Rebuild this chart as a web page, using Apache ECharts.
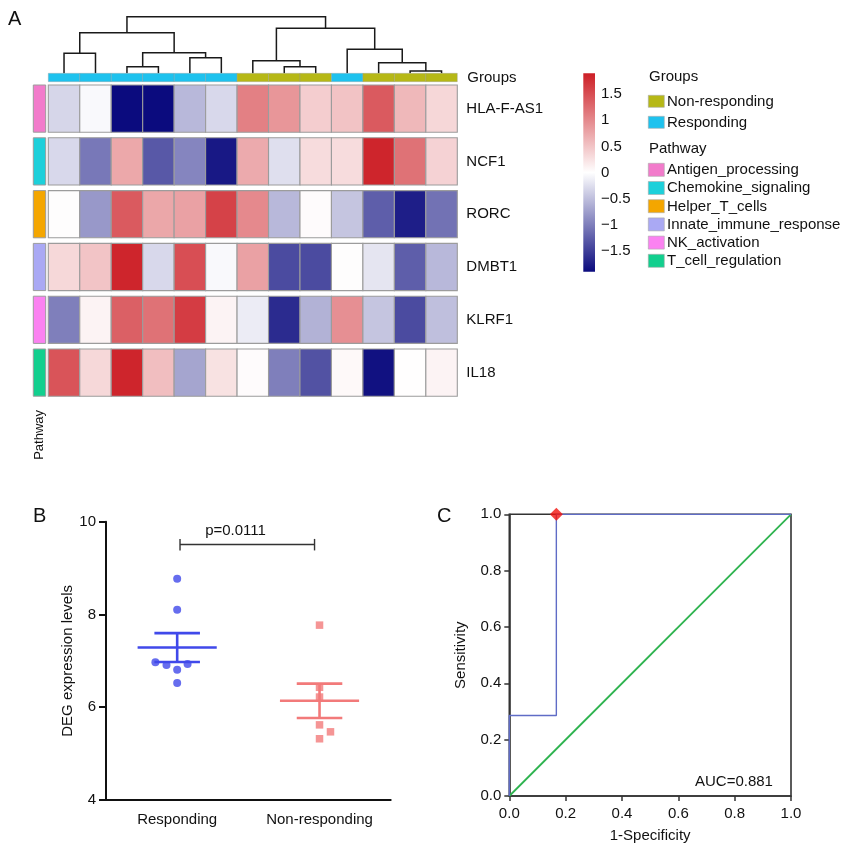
<!DOCTYPE html>
<html><head><meta charset="utf-8">
<script src="https://cdn.jsdelivr.net/npm/echarts@6/dist/echarts.min.js"></script>
<style>html,body{margin:0;padding:0;background:#fff}#c{width:848px;height:850px}</style>
</head><body><div id="c"></div>
<script>
// ---------------- DATA ----------------
const samples = ['S1','S2','S3','S4','S5','S6','S7','S8','S9','S10','S11','S12','S13'];
const sampleGroups = ['Responding','Responding','Responding','Responding','Responding','Responding',
  'Non-responding','Non-responding','Non-responding','Responding','Non-responding','Non-responding','Non-responding'];
const genes = ['HLA-F-AS1','NCF1','RORC','DMBT1','KLRF1','IL18'];
const genePathways = ['Antigen_processing','Chemokine_signaling','Helper_T_cells','Innate_immune_response','NK_activation','T_cell_regulation'];
const hlaF  = [-0.32,-0.05,-1.90,-1.90,-0.55,-0.30, 1.08, 0.89, 0.42, 0.51, 1.40, 0.60, 0.34];
const ncf1  = [-0.30,-1.05, 0.74,-1.30,-0.95,-1.80, 0.72,-0.25, 0.30, 0.30, 1.85, 1.20, 0.38];
const rorc  = [ 0.02,-0.80, 1.40, 0.75, 0.80, 1.60, 1.00,-0.55, 0.03,-0.45,-1.25,-1.75,-1.10];
const dmbt1 = [ 0.33, 0.50, 1.85,-0.30, 1.50,-0.05, 0.80,-1.40,-1.40, 0.02,-0.20,-1.25,-0.55];
const klrf1 = [-1.00, 0.10, 1.35, 1.20, 1.65, 0.10,-0.15,-1.65,-0.60, 0.95,-0.45,-1.40,-0.50];
const il18  = [ 1.45, 0.33, 1.85, 0.55,-0.70, 0.25, 0.03,-1.00,-1.35, 0.05,-1.85, 0.01, 0.10];
const geneValues = [hlaF, ncf1, rorc, dmbt1, klrf1, il18];
// hclust-style merges: negative = leaf (1-based display order), positive = earlier merge
const dendroMerges = [[-12,-13,0.23],[-3,-4,0.66],[-8,-9,0.66],[-11,1,1.06],[-7,3,1.26],[-5,-6,1.56],
  [-1,-2,2.00],[2,6,2.06],[-10,4,2.40],[7,8,4.06],[5,9,4.50],[10,11,5.66]];
const colorTicks = [-1.5,-1,-0.5,0,0.5,1,1.5];
const groupColors = {'Non-responding':'#B6B816','Responding':'#1EC2EE'};
const pathwayColors = {'Antigen_processing':'#F27BCB','Chemokine_signaling':'#1DD0DA','Helper_T_cells':'#F4A600',
  'Innate_immune_response':'#AAA9F4','NK_activation':'#FB82F1','T_cell_regulation':'#12CF8E'};
const heatColors = ['#0B0B7E','#FFFFFF','#CD1F26'];

// Panel B
const bCategories = ['Responding','Non-responding'];
const respondingLevels = [8.77, 8.10, 6.97, 6.91, 6.81, 6.93, 6.52];
const respondingJitter = [0, 0, -0.153, -0.075, 0, 0.073, 0];
const nonRespLevels = [7.77, 6.43, 6.22, 5.62, 5.47, 5.32];
const nonRespJitter = [0, 0, 0, 0, 0.077, 0];
const pValueText = 'p=0.0111';

// Panel C
const rocFpr = [0, 0, 0.167, 0.167, 1];
const rocTpr = [0, 0.286, 0.286, 1, 1];
const bestCutoff = [0.167, 1];
const aucText = 'AUC=0.881';

// ---------------- BUILD ----------------
const FONT = 'Liberation Sans, Arial, Helvetica, sans-serif';
const heatData = [];
geneValues.forEach((vals, r) => vals.forEach((v, c) => heatData.push([c, r, v])));
const groupData = sampleGroups.map((g, i) => [i, 0, g]);
const pathData = genePathways.map((p, r) => [0, r, p]);

const pos = [], hgt = [];
const nodeOf = k => k < 0 ? {x: -k - 1, h: 0} : {x: pos[k-1], h: hgt[k-1]};
const dendroData = dendroMerges.map(m => {
  const a = nodeOf(m[0]), b = nodeOf(m[1]);
  pos.push((a.x + b.x) / 2); hgt.push(m[2]);
  return [a.x, a.h, b.x, b.h, m[2]];
});

function stats(arr) {
  const n = arr.length, mean = arr.reduce((s, v) => s + v, 0) / n;
  const sd = Math.sqrt(arr.reduce((s, v) => s + (v - mean) ** 2, 0) / (n - 1));
  return {mean, sem: sd / Math.sqrt(n)};
}
const sR = stats(respondingLevels), sN = stats(nonRespLevels);
const blue = '#4049EA', salmon = '#F27A7A';

const axisTxt = {fontFamily: FONT, fontSize: 15, color: '#111'};
const minus = v => v < 0 ? '\u2212' + Math.abs(v) : String(v);

const chart = echarts.init(document.getElementById('c'), null, {renderer: 'canvas'});
const option = {
  animation: false,
  backgroundColor: '#fff',
  grid: [
    {left: 48.3, top: 16.7, width: 409, height: 56.6},
    {left: 48.3, top: 73.3, width: 409, height: 8.4},
    {left: 48.3, top: 82.2, width: 409, height: 316.8},
    {left: 33.3, top: 82.2, width: 12.4, height: 316.8},
    {left: 583.3, top: 73.3, width: 11.7, height: 198.4},
    {left: 106, top: 521.7, width: 284.7, height: 278.3},
    {left: 509.3, top: 514.3, width: 281.7, height: 281.7, show: true, borderColor: '#333', borderWidth: 1.6}
  ],
  xAxis: [
    {type: 'value', gridIndex: 0, min: -0.5, max: 12.5, show: false},
    {type: 'category', gridIndex: 1, data: samples, show: false},
    {type: 'category', gridIndex: 2, data: samples, show: false},
    {type: 'category', gridIndex: 3, data: ['Pathway'], axisLine: {show: false}, axisTick: {show: false},
      axisLabel: {rotate: 90, margin: 11, fontSize: 13, fontFamily: FONT, color: '#111'}},
    {type: 'category', gridIndex: 4, data: [''], show: false},
    {type: 'category', gridIndex: 5, data: bCategories, boundaryGap: true,
      axisLine: {lineStyle: {color: '#111', width: 2}},
      axisTick: {alignWithLabel: true, length: 6, lineStyle: {color: '#111', width: 2}},
      axisLabel: Object.assign({margin: 12}, axisTxt)},
    {type: 'value', gridIndex: 6, min: 0, max: 1, interval: 0.2, name: '1-Specificity', nameLocation: 'middle', nameGap: 32,
      nameTextStyle: axisTxt,
      axisLine: {onZero: false, lineStyle: {color: '#333', width: 1.6}}, axisTick: {length: 5, lineStyle: {color: '#333', width: 1.5}},
      splitLine: {show: false}, axisLabel: Object.assign({margin: 10, formatter: v => v.toFixed(1)}, axisTxt)},
    {type: 'value', gridIndex: 5, min: -0.5, max: 1.5, show: false}
  ],
  yAxis: [
    {type: 'value', gridIndex: 0, min: 0, max: 5.66, show: false},
    {type: 'category', gridIndex: 1, data: ['Groups'], position: 'right', axisLine: {show: false}, axisTick: {show: false},
      axisLabel: Object.assign({margin: 10}, axisTxt)},
    {type: 'category', gridIndex: 2, data: genes, inverse: true, position: 'right', axisLine: {show: false}, axisTick: {show: false},
      axisLabel: Object.assign({margin: 9}, axisTxt)},
    {type: 'category', gridIndex: 3, data: genes, inverse: true, show: false},
    {type: 'value', gridIndex: 4, min: -1.9, max: 1.9, position: 'right', axisLine: {show: false}, axisTick: {show: false},
      splitLine: {show: false},
      axisLabel: Object.assign({margin: 6, customValues: colorTicks, formatter: minus}, axisTxt)},
    {type: 'value', gridIndex: 5, min: 4, max: 10, interval: 2, name: 'DEG expression levels', nameLocation: 'middle', nameGap: 27,
      nameTextStyle: axisTxt,
      axisLine: {show: true, onZero: false, lineStyle: {color: '#111', width: 2}}, axisTick: {show: true, length: 7, lineStyle: {color: '#111', width: 2}},
      splitLine: {show: false}, axisLabel: Object.assign({margin: 10}, axisTxt)},
    {type: 'value', gridIndex: 6, min: 0, max: 1, interval: 0.2, name: 'Sensitivity', nameLocation: 'middle', nameGap: 41,
      nameTextStyle: axisTxt,
      axisLine: {show: true, onZero: false, lineStyle: {color: '#333', width: 1.6}}, axisTick: {show: true, length: 5, lineStyle: {color: '#333', width: 1.5}},
      splitLine: {show: false}, axisLabel: Object.assign({margin: 8, formatter: v => v.toFixed(1)}, axisTxt)}
  ],
  visualMap: [{type: 'continuous', show: false, min: -1.9, max: 1.9, dimension: 2, seriesIndex: 2, inRange: {color: heatColors}}],
  series: [
    { // 0 dendrogram
      type: 'custom', xAxisIndex: 0, yAxisIndex: 0, data: dendroData, encode: {x: [0, 2], y: [1, 3, 4]},
      renderItem(params, api) {
        const p1 = api.coord([api.value(0), api.value(1)]);
        const p2 = api.coord([api.value(0), api.value(4)]);
        const p3 = api.coord([api.value(2), api.value(4)]);
        const p4 = api.coord([api.value(2), api.value(3)]);
        return {type: 'polyline', shape: {points: [p1, p2, p3, p4]}, style: {stroke: '#1a1a1a', lineWidth: 1.5, fill: 'none'}};
      }
    },
    { // 1 group annotation
      type: 'custom', xAxisIndex: 1, yAxisIndex: 1, data: groupData, encode: {x: 0, y: 1},
      renderItem(params, api) {
        const c = api.coord([api.value(0), api.value(1)]), s = api.size([1, 1]);
        const g = groupData[params.dataIndex][2];
        return {type: 'rect', shape: {x: c[0] - s[0] / 2, y: c[1] - s[1] / 2, width: s[0], height: s[1]},
          style: {fill: groupColors[g], stroke: 'rgba(150,150,150,0.45)', lineWidth: 0.8}};
      }
    },
    { // 2 heatmap cells
      type: 'custom', xAxisIndex: 2, yAxisIndex: 2, data: heatData, encode: {x: 0, y: 1},
      renderItem(params, api) {
        const c = api.coord([api.value(0), api.value(1)]), s = api.size([1, 1]);
        const gap = 2.8;
        return {type: 'rect', shape: {x: c[0] - s[0] / 2, y: c[1] - s[1] / 2 + gap, width: s[0], height: s[1] - 2 * gap},
          style: {fill: api.visual('color'), stroke: '#9c9c9c', lineWidth: 1.1}};
      }
    },
    { // 3 pathway annotation
      type: 'custom', xAxisIndex: 3, yAxisIndex: 3, data: pathData, encode: {x: 0, y: 1},
      renderItem(params, api) {
        const c = api.coord([api.value(0), api.value(1)]), s = api.size([1, 1]);
        const gap = 2.8;
        const p = pathData[params.dataIndex][2];
        return {type: 'rect', shape: {x: c[0] - s[0] / 2, y: c[1] - s[1] / 2 + gap, width: s[0], height: s[1] - 2 * gap},
          style: {fill: pathwayColors[p], stroke: '#9c9c9c', lineWidth: 1}};
      }
    },
    { // 4 colour bar
      type: 'custom', xAxisIndex: 4, yAxisIndex: 4, data: [[0, 0]],
      renderItem(params, api) {
        const top = api.coord([0, 1.9]), bot = api.coord([0, -1.9]), w = api.size([1, 0])[0];
        return {type: 'rect', shape: {x: top[0] - w / 2, y: top[1], width: w, height: bot[1] - top[1]},
          style: {fill: new echarts.graphic.LinearGradient(0, 0, 0, 1, [
            {offset: 0, color: heatColors[2]}, {offset: 0.5, color: heatColors[1]}, {offset: 1, color: heatColors[0]}])}};
      }
    },
    { // 5 responding points
      type: 'scatter', xAxisIndex: 7, yAxisIndex: 5, symbol: 'circle', symbolSize: 8, itemStyle: {color: blue},
      data: respondingLevels.map((v, i) => [0 + respondingJitter[i], v]), z: 3
    },
    { // 6 non-responding points
      type: 'scatter', xAxisIndex: 7, yAxisIndex: 5, symbol: 'rect', symbolSize: 7.5, itemStyle: {color: salmon},
      data: nonRespLevels.map((v, i) => [1 + nonRespJitter[i], v]), z: 3
    },
    { // 7 mean +/- SEM
      type: 'custom', xAxisIndex: 7, yAxisIndex: 5, z: 4,
      data: [[0, sR.mean, sR.sem, 0], [1, sN.mean, sN.sem, 1]],
      renderItem(params, api) {
        const x = api.value(0), m = api.value(1), e = api.value(2);
        const col = api.value(3) === 0 ? blue : salmon;
        const st = {stroke: col, lineWidth: 2.6};
        const L = (x1, y1, x2, y2) => {
          const a = api.coord([x1, y1]), b = api.coord([x2, y2]);
          return {type: 'line', shape: {x1: a[0], y1: a[1], x2: b[0], y2: b[1]}, style: st};
        };
        return {type: 'group', children: [
          L(x - 0.278, m, x + 0.278, m), L(x - 0.16, m + e, x + 0.16, m + e),
          L(x - 0.16, m - e, x + 0.16, m - e), L(x, m - e, x, m + e)]};
      }
    },
    { // 8 significance bracket
      type: 'custom', xAxisIndex: 7, yAxisIndex: 5, data: [[0.02, 0.965, 9.51]],
      renderItem(params, api) {
        const x1 = api.value(0), x2 = api.value(1), y = api.value(2);
        const st = {stroke: '#333', lineWidth: 1.4};
        const a = api.coord([x1, y]), b = api.coord([x2, y]);
        const t = api.coord([0.41, 9.80]);
        return {type: 'group', children: [
          {type: 'line', shape: {x1: a[0], y1: a[1], x2: b[0], y2: b[1]}, style: st},
          {type: 'line', shape: {x1: a[0], y1: a[1] - 5.5, x2: a[0], y2: a[1] + 6}, style: st},
          {type: 'line', shape: {x1: b[0], y1: b[1] - 5.5, x2: b[0], y2: b[1] + 6}, style: st},
          {type: 'text', x: t[0], y: t[1], style: {text: pValueText, fill: '#111', font: '15px ' + FONT, align: 'center', verticalAlign: 'middle'}}
        ]};
      }
    },
    { // 9 reference diagonal
      type: 'line', xAxisIndex: 6, yAxisIndex: 6, data: [[0, 0], [1, 1]], symbol: 'none',
      lineStyle: {color: '#2EB34F', width: 1.8}
    },
    { // 10 ROC curve
      type: 'line', xAxisIndex: 6, yAxisIndex: 6, data: rocFpr.map((f, i) => [f, rocTpr[i]]), symbol: 'none',
      lineStyle: {color: '#5F6CC6', width: 1.4}, z: 3
    },
    { // 11 best cut-off
      type: 'scatter', xAxisIndex: 6, yAxisIndex: 6, data: [bestCutoff], symbol: 'diamond', symbolSize: 13,
      itemStyle: {color: '#F2140E'}, z: 5
    }
  ],
  graphic: [
    {type: 'text', left: 8, top: 9, style: {text: 'A', font: '20px ' + FONT, fill: '#111'}},
    {type: 'text', left: 33, top: 506, style: {text: 'B', font: '20px ' + FONT, fill: '#111'}},
    {type: 'text', left: 437, top: 506, style: {text: 'C', font: '20px ' + FONT, fill: '#111'}},
    {type: 'text', left: 695, top: 774, style: {text: aucText, font: '15px ' + FONT, fill: '#111'}}
  ]
};

// legends (annotation keys)
const legendItems = [];
legendItems.push({type: 'text', left: 649, top: 69, style: {text: 'Groups', font: '15px ' + FONT, fill: '#111'}});
Object.keys(groupColors).forEach((g, i) => {
  const y = 101 + i * 21;
  legendItems.push({type: 'rect', left: 648, top: y - 6, shape: {width: 16, height: 12}, style: {fill: groupColors[g], stroke: '#aaa', lineWidth: 0.6}});
  legendItems.push({type: 'text', left: 667, top: y - 7, style: {text: g, font: '15px ' + FONT, fill: '#111'}});
});
legendItems.push({type: 'text', left: 649, top: 141, style: {text: 'Pathway', font: '15px ' + FONT, fill: '#111'}});
genePathways.forEach((p, i) => {
  const y = 169.5 + i * 18.2;
  legendItems.push({type: 'rect', left: 648, top: y - 6.5, shape: {width: 16, height: 13}, style: {fill: pathwayColors[p], stroke: '#aaa', lineWidth: 0.6}});
  legendItems.push({type: 'text', left: 667, top: y - 7, style: {text: p, font: '15px ' + FONT, fill: '#111'}});
});
option.graphic = option.graphic.concat(legendItems);
chart.setOption(option);
</script></body></html>
